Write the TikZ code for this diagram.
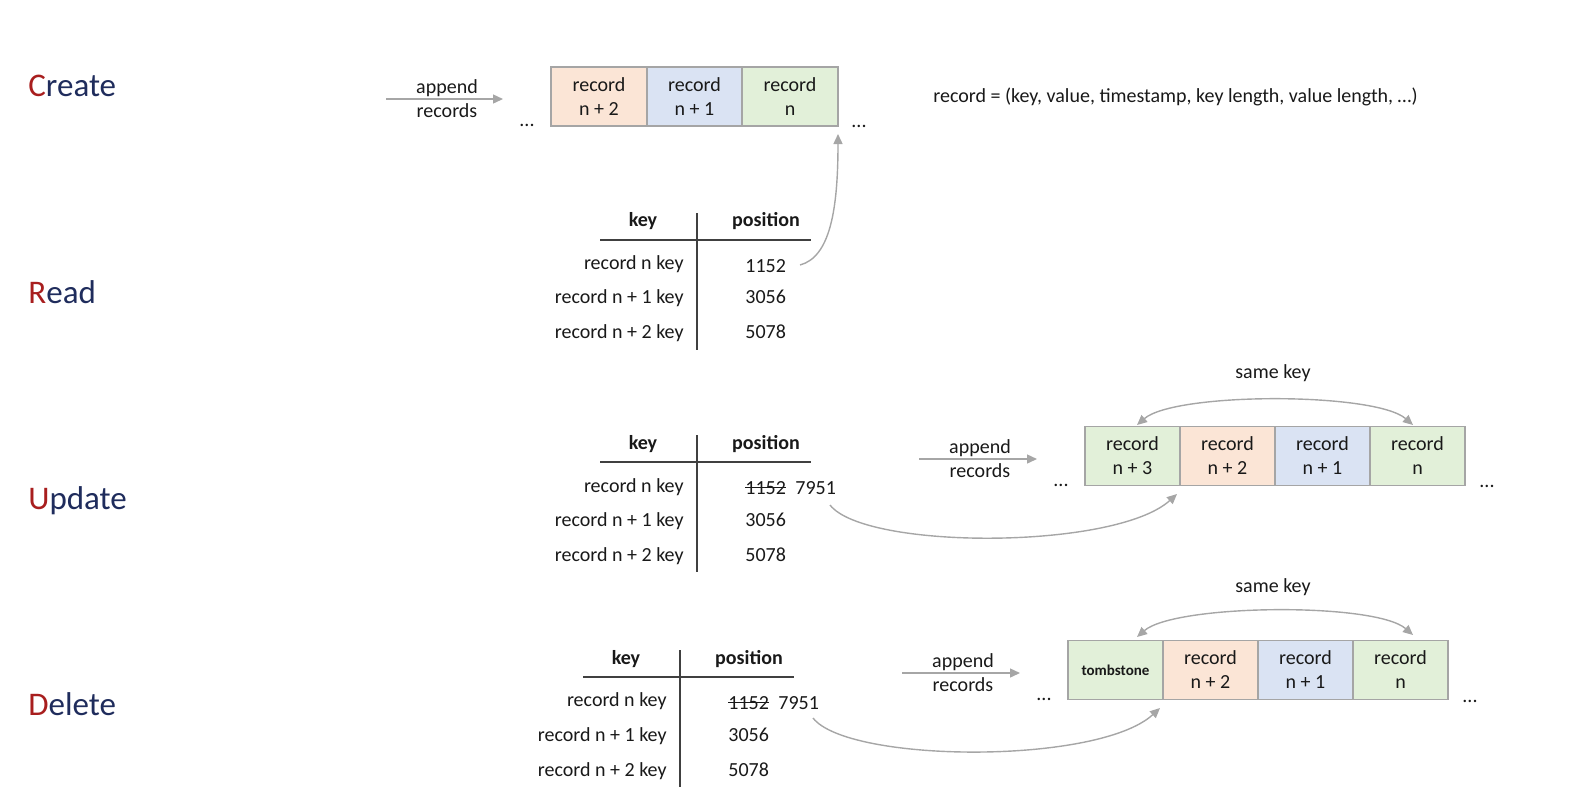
\documentclass[tikz,border=0pt]{standalone}
\usepackage{fontspec}
\setmainfont{Carlito}
\usetikzlibrary{arrows.meta}
\definecolor{navy}{HTML}{1F2C5C}
\definecolor{dred}{HTML}{A81E1E}
\definecolor{peach}{HTML}{FBE5D6}
\definecolor{lblue}{HTML}{DAE3F3}
\definecolor{lgreen}{HTML}{E2F0D9}
\definecolor{bgray}{HTML}{A5A5A5}
\definecolor{agray}{HTML}{A6A6A6}
\begin{document}
\begin{tikzpicture}[x=0.5pt,y=-0.5pt,
  every node/.style={font=\fontsize{10}{12}\selectfont, inner sep=0pt, text=black!90},
  title/.style={font=\fontsize{16.5}{20}\selectfont, text=navy, anchor=base west},
  rec/.style={draw=bgray, line width=0.8pt, minimum width=47.75pt, minimum height=29.5pt, align=center},
  conn/.style={draw=agray, line width=0.7pt, -{Triangle[length=5pt,width=4.5pt]}},
  both/.style={draw=agray, line width=0.7pt, {Triangle[length=5pt,width=4.5pt]}-{Triangle[length=5pt,width=4.5pt]}},
  rule/.style={draw=black!75, line width=0.6pt},
  strike/.style={draw=black!90, line width=0.5pt},
  hd/.style={font=\fontsize{10}{12}\selectfont\bfseries, anchor=base},
  keyt/.style={anchor=base east},
  valt/.style={anchor=base west},
  dotst/.style={anchor=base},
  twoline/.style={align=center}
]
\useasboundingbox (0,0) rectangle (1591,805);

% titles
\node[title] (tC) at (28,96) {\textcolor{dred}{C}reate};
\node[title] (tR) at (28,303) {\textcolor{dred}{R}ead};
\node[title] (tU) at (28,509) {\textcolor{dred}{U}pdate};
\node[title] (tD) at (28,715) {\textcolor{dred}{D}elete};

% ---------------- Create ----------------
\coordinate (cas) at (386,99);
\coordinate (cae) at (503,99);
\node[twoline] (cap) at (447,99) {append\\records};
\draw[conn] (cas) -- (cae);
\node[dotst] (cdl) at (527,126) {...};
\node[rec, fill=peach] (c2) at (599,96.5) {record\\n + 2};
\node[rec, fill=lblue] (c1) at (694.5,96.5) {record\\n + 1};
\node[rec, fill=lgreen] (c0) at (790,96.5) {record\\n};
\node[dotst] (cdr) at (859,127) {...};
\node[anchor=west] (def) at (933,97) {record = (key, value, timestamp, key length, value length, …)};

% ---------------- Read table ----------------
\coordinate (rvt) at (697,213);
\coordinate (rvb) at (697,350);
\coordinate (rhl) at (600,240);
\coordinate (rhr) at (811,240);
\draw[rule] (rvt) -- (rvb);
\draw[rule] (rhl) -- (rhr);
\node[hd] (rhk) at (643,226) {key};
\node[hd] (rhp) at (766,226) {position};
\node[keyt] (rk1) at (684,269) {record n key};
\node[keyt] (rk2) at (684,303) {record n + 1 key};
\node[keyt] (rk3) at (684,338) {record n + 2 key};
\node[valt] (rv1) at (745,272) {1152};
\node[valt] (rv2) at (745,303) {3056};
\node[valt] (rv3) at (745,338) {5078};
\coordinate (rcs) at (800,265);
\coordinate (rce) at (838,134);
\draw[conn] (rcs) .. controls (830,257) and (838,210) .. (rce);

% ---------------- Update table ----------------
\begin{scope}[shift={(0,222)}]
\coordinate (uvt) at (697,213);
\coordinate (uvb) at (697,350);
\coordinate (uhl) at (600,240);
\coordinate (uhr) at (811,240);
\draw[rule] (uvt) -- (uvb);
\draw[rule] (uhl) -- (uhr);
\node[hd] (uhk) at (643,227) {key};
\node[hd] (uhp) at (766,227) {position};
\node[keyt] (uk1) at (684,270) {record n key};
\node[keyt] (uk2) at (684,304) {record n + 1 key};
\node[keyt] (uk3) at (684,339) {record n + 2 key};
\node[valt] (uv1) at (745,272) {1152};
\node[valt] (uv1n) at (795,272) {7951};
\node[valt] (uv2) at (745,304) {3056};
\node[valt] (uv3) at (745,339) {5078};
\end{scope}
\draw[strike] ([yshift=3.3pt]uv1.base west) -- ([yshift=3.3pt]uv1.base east);

% Update log
\coordinate (uas) at (919,459);
\coordinate (uae) at (1037,459);
\node[twoline] (uap) at (980,459) {append\\records};
\draw[conn] (uas) -- (uae);
\node[dotst] (udl) at (1061,486) {...};
\node[rec, fill=lgreen] (u3) at (1132.5,456) {record\\n + 3};
\node[rec, fill=peach] (u2) at (1227.5,456) {record\\n + 2};
\node[rec, fill=lblue] (u1) at (1322.5,456) {record\\n + 1};
\node[rec, fill=lgreen] (u0) at (1417.5,456) {record\\n};
\node[dotst] (udr) at (1487,487) {...};
\node (usk) at (1273,373) {same key};
\coordinate (usl) at (1137,425);
\coordinate (usr) at (1413,425);
\draw[both] (usl) .. controls (1175,392) and (1375,392) .. (usr);
\coordinate (ucs) at (830,505);
\coordinate (uce) at (1177,494);
\draw[conn] (ucs) .. controls (865,550) and (1115,550) .. (uce);

% ---------------- Delete table ----------------
\begin{scope}[shift={(-17,437)}]
\coordinate (dvt) at (697,213);
\coordinate (dvb) at (697,350);
\coordinate (dhl) at (600,240);
\coordinate (dhr) at (811,240);
\draw[rule] (dvt) -- (dvb);
\draw[rule] (dhl) -- (dhr);
\node[hd] (dhk) at (643,227) {key};
\node[hd] (dhp) at (766,227) {position};
\node[keyt] (dk1) at (684,269) {record n key};
\node[keyt] (dk2) at (684,304) {record n + 1 key};
\node[keyt] (dk3) at (684,339) {record n + 2 key};
\node[valt] (dv1) at (745,272) {1152};
\node[valt] (dv1n) at (795,272) {7951};
\node[valt] (dv2) at (745,304) {3056};
\node[valt] (dv3) at (745,339) {5078};
\end{scope}
\draw[strike] ([yshift=3.3pt]dv1.base west) -- ([yshift=3.3pt]dv1.base east);

% Delete log
\coordinate (das) at (902,673);
\coordinate (dae) at (1020,673);
\node[twoline] (dap) at (963,673) {append\\records};
\draw[conn] (das) -- (dae);
\node[dotst] (ddl) at (1044,700) {...};
\node[rec, fill=lgreen, font=\fontsize{7.5}{9}\selectfont\bfseries] (d3) at (1115.5,670) {tombstone};
\node[rec, fill=peach] (d2) at (1210.5,670) {record\\n + 2};
\node[rec, fill=lblue] (d1) at (1305.5,670) {record\\n + 1};
\node[rec, fill=lgreen] (d0) at (1400.5,670) {record\\n};
\node[dotst] (ddr) at (1470,702) {...};
\node (dsk) at (1273,587) {same key};
\coordinate (dsl) at (1137,637);
\coordinate (dsr) at (1413,635);
\draw[both] (dsl) .. controls (1175,604) and (1375,602) .. (dsr);
\coordinate (dcs) at (813,718);
\coordinate (dce) at (1160,708);
\draw[conn] (dcs) .. controls (848,763) and (1098,765) .. (dce);
\end{tikzpicture}
\end{document}
